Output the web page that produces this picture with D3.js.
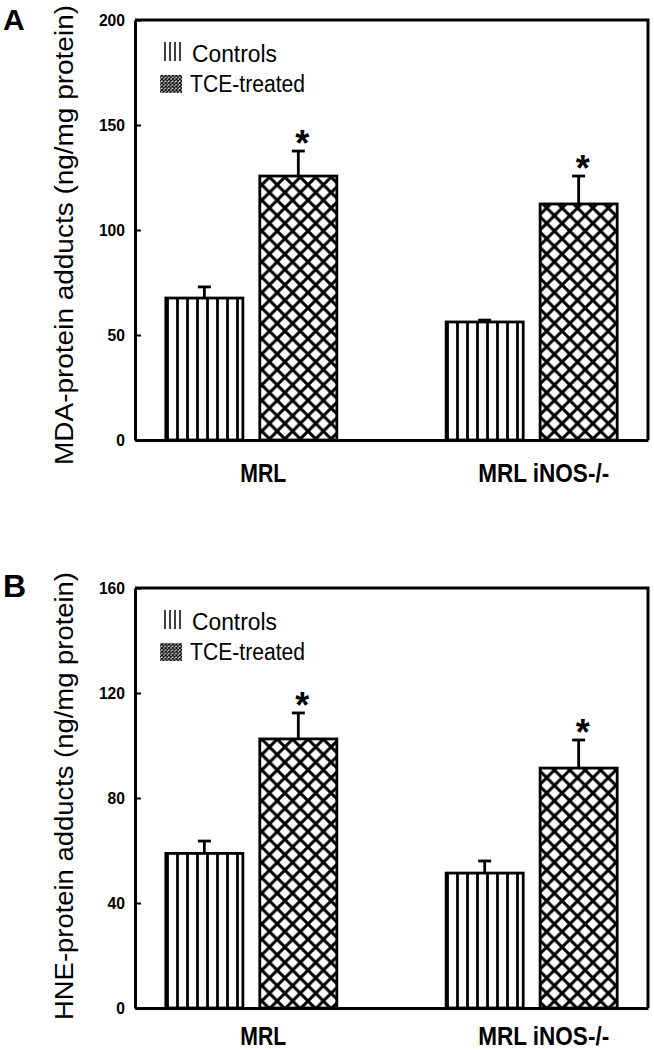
<!DOCTYPE html>
<html>
<head>
<meta charset="utf-8">
<script src="https://cdn.jsdelivr.net/npm/d3@7"></script>
<style>
  html, body { margin: 0; padding: 0; background: #fff; }
  svg { display: block; }
  text { font-family: Arial, "Liberation Sans", sans-serif; fill: #000; }
</style>
</head>
<body>
<svg id="chart" width="654" height="1050"></svg>
<script>
// ---------- data ----------
const groups = ["MRL", "MRL iNOS-/-"];
const seriesNames = ["Controls", "TCE-treated"];

const mdaControls = [67.6, 56.2];
const mdaControlsErr = [5.3, 0.9];
const mdaTCE = [125.7, 112.4];
const mdaTCEErr = [11.9, 13.3];
const mdaSignificant = [true, true];
const mdaTicks = [0, 50, 100, 150, 200];

const hneControls = [58.9, 51.4];
const hneControlsErr = [4.7, 4.6];
const hneTCE = [102.5, 91.4];
const hneTCEErr = [9.9, 10.7];
const hneSignificant = [true, true];
const hneTicks = [0, 40, 80, 120, 160];

const panels = [
  { letter: "A", ylabel: "MDA-protein adducts (ng/mg protein)",
    controls: mdaControls, controlsErr: mdaControlsErr, tce: mdaTCE, tceErr: mdaTCEErr,
    sig: mdaSignificant, ticks: mdaTicks,
    top: 20, bottom: 440, letterY: 30, letterSize: 30, xlabelY: 482,
    ylabelCenter: 235, ylabelLen: 460 },
  { letter: "B", ylabel: "HNE-protein adducts (ng/mg protein)",
    controls: hneControls, controlsErr: hneControlsErr, tce: hneTCE, tceErr: hneTCEErr,
    sig: hneSignificant, ticks: hneTicks,
    top: 588, bottom: 1008, letterY: 597, letterSize: 32, xlabelY: 1045,
    ylabelCenter: 796, ylabelLen: 448 }
];

// ---------- drawing ----------
const svg = d3.select("#chart");
svg.append("rect").attr("width", 654).attr("height", 1050).attr("fill", "#fff");

const left = 135, right = 648;
const defs = svg.append("defs");

// vertical-lines pattern (Controls)
const vp = defs.append("pattern").attr("id", "vlines")
  .attr("patternUnits", "userSpaceOnUse").attr("width", 10).attr("height", 10);
vp.append("rect").attr("width", 10).attr("height", 10).attr("fill", "#fff");
vp.append("line").attr("x1", 7.5).attr("x2", 7.5).attr("y1", -1).attr("y2", 11)
  .attr("stroke", "#000").attr("stroke-width", 2.8);

// crosshatch pattern
function crossPattern(id, s, sw) {
  const p = defs.append("pattern").attr("id", id)
    .attr("patternUnits", "userSpaceOnUse").attr("width", s).attr("height", s);
  p.append("rect").attr("width", s).attr("height", s).attr("fill", "#fff");
  const d = [];
  for (const k of [-s, 0, s]) {
    d.push(`M${-s},${-s + k} L${2 * s},${2 * s + k}`);
    d.push(`M${-s},${2 * s + k} L${2 * s},${-s + k}`);
  }
  p.append("path").attr("d", d.join(" ")).attr("stroke", "#000")
    .attr("stroke-width", sw).attr("fill", "none");
}
crossPattern("xhatch", 15.4, 3);
crossPattern("xhatchSmall", 3.6, 1.2);

panels.forEach(P => {
  const g = svg.append("g");
  const y = d3.scaleLinear().domain([0, d3.max(P.ticks)]).range([P.bottom, P.top]);
  const x0 = d3.scaleBand().domain(groups).range([left, right])
    .paddingInner(0.39).paddingOuter(0.11);
  const x1 = d3.scaleBand().domain(seriesNames).range([0, x0.bandwidth()])
    .paddingInner(0.18).paddingOuter(0);

  const rows = [];
  groups.forEach((grp, i) => {
    rows.push({ grp, s: seriesNames[0], v: P.controls[i], e: P.controlsErr[i], sig: false, fill: "url(#vlines)" });
    rows.push({ grp, s: seriesNames[1], v: P.tce[i], e: P.tceErr[i], sig: P.sig[i], fill: "url(#xhatch)" });
  });

  // bars
  g.selectAll("rect.bar").data(rows).join("rect").attr("class", "bar")
    .attr("x", d => x0(d.grp) + x1(d.s))
    .attr("y", d => y(d.v))
    .attr("width", x1.bandwidth())
    .attr("height", d => y(0) - y(d.v))
    .attr("fill", d => d.fill)
    .attr("stroke", "#000").attr("stroke-width", 2.8);

  // error bars (upper)
  const cx = d => x0(d.grp) + x1(d.s) + x1.bandwidth() / 2;
  g.selectAll("line.err").data(rows).join("line").attr("class", "err")
    .attr("x1", cx).attr("x2", cx)
    .attr("y1", d => y(d.v)).attr("y2", d => y(d.v + d.e))
    .attr("stroke", "#000").attr("stroke-width", 2.8);
  g.selectAll("line.cap").data(rows).join("line").attr("class", "cap")
    .attr("x1", d => cx(d) - 6.5).attr("x2", d => cx(d) + 6.5)
    .attr("y1", d => y(d.v + d.e)).attr("y2", d => y(d.v + d.e))
    .attr("stroke", "#000").attr("stroke-width", 2.8);

  // significance stars
  g.selectAll("text.star").data(rows.filter(d => d.sig)).join("text").attr("class", "star")
    .attr("x", d => cx(d) + 4)
    .attr("y", d => y(d.v + d.e) + 5)
    .attr("text-anchor", "middle")
    .attr("font-size", 36).attr("font-weight", "bold")
    .text("*");

  // y axis
  const ya = g.append("g").attr("transform", `translate(${left},0)`)
    .call(d3.axisLeft(y).tickValues(P.ticks).tickFormat(d3.format("d"))
      .tickSizeInner(-6).tickSizeOuter(0).tickPadding(10));
  ya.select(".domain").attr("stroke", "#000").attr("stroke-width", 3);
  ya.selectAll(".tick line").attr("stroke", "#000").attr("stroke-width", 2);
  ya.selectAll(".tick text").attr("font-size", 17).attr("font-weight", "bold")
    .attr("font-family", "Arial, 'Liberation Sans', sans-serif").attr("fill", "#000")
    .attr("textLength", d => String(d).length * 8.7).attr("lengthAdjust", "spacingAndGlyphs");

  // x axis
  const xa = g.append("g").attr("transform", `translate(0,${P.bottom})`)
    .call(d3.axisBottom(x0).tickSize(0).tickSizeOuter(0));
  xa.select(".domain").attr("stroke", "#000").attr("stroke-width", 3);
  xa.selectAll(".tick text")
    .attr("y", P.xlabelY - P.bottom).attr("dy", 0).attr("dx", 12)
    .attr("font-size", 26).attr("font-weight", "bold")
    .attr("font-family", "Arial, 'Liberation Sans', sans-serif").attr("fill", "#000")
    .attr("textLength", d => d === groups[0] ? 46 : 131)
    .attr("lengthAdjust", "spacingAndGlyphs");

  // top and right frame
  g.append("path").attr("d", `M${left},${P.top} H${right} V${P.bottom}`)
    .attr("fill", "none").attr("stroke", "#000").attr("stroke-width", 3);

  // y label
  g.append("text")
    .attr("transform", `translate(73,${P.ylabelCenter}) rotate(-90)`)
    .attr("text-anchor", "middle").attr("font-size", 26)
    .attr("textLength", P.ylabelLen).attr("lengthAdjust", "spacingAndGlyphs")
    .text(P.ylabel);

  // panel letter
  g.append("text").attr("x", 3).attr("y", P.letterY)
    .attr("font-size", P.letterSize).attr("font-weight", "bold").text(P.letter);

  // legend
  const lg = g.append("g");
  [165, 170, 175, 180].forEach(lx => {
    lg.append("line").attr("x1", lx).attr("x2", lx)
      .attr("y1", P.top + 22).attr("y2", P.top + 41)
      .attr("stroke", "#000").attr("stroke-width", 1.5);
  });
  lg.append("text").attr("x", 192).attr("y", P.top + 42).attr("font-size", 23)
    .attr("textLength", 85).attr("lengthAdjust", "spacingAndGlyphs").text(seriesNames[0]);
  lg.append("rect").attr("x", 160).attr("y", P.top + 55).attr("width", 22).attr("height", 18)
    .attr("fill", "url(#xhatchSmall)");
  lg.append("text").attr("x", 190).attr("y", P.top + 72).attr("font-size", 23)
    .attr("textLength", 115).attr("lengthAdjust", "spacingAndGlyphs").text(seriesNames[1]);
});
</script>
</body>
</html>
